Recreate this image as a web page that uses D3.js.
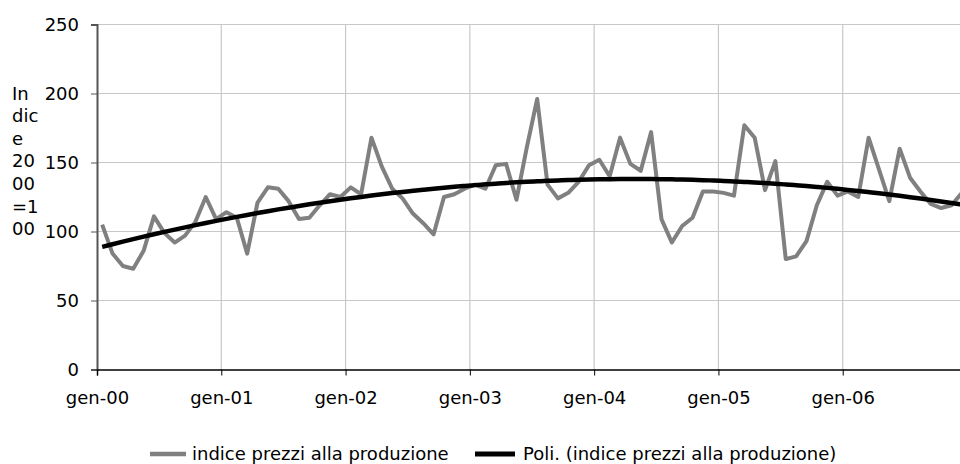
<!DOCTYPE html>
<html>
<head>
<meta charset="utf-8">
<script src="https://cdn.jsdelivr.net/npm/d3@7"></script>
<style>
  body { margin: 0; background: #fff; }
  text { font-family: "DejaVu Sans", Verdana, sans-serif; fill: #000; }
</style>
</head>
<body>
<svg id="chart" width="960" height="464"></svg>
<script>
// monthly producer price index, gen-00 .. dic-06
var prezzi = [
  105, 84, 75, 73, 86, 111, 99, 92, 97, 107, 125, 109,
  114, 110, 84, 121, 132, 131, 122, 109, 110, 119, 127, 125,
  132, 127, 168, 147, 131, 124, 113, 106, 98, 125, 127, 131,
  134, 131, 148, 149, 123, 161, 196, 134, 124, 128, 136, 148,
  152, 140, 168, 149, 144, 172, 109, 92, 104, 110, 129, 129,
  128, 126, 177, 168, 130, 151, 80, 82, 93, 119, 136, 126,
  129, 125, 168, 145, 122, 160, 139, 129, 120, 117, 119, 128
];
var yearLabels = ["gen-00", "gen-01", "gen-02", "gen-03", "gen-04", "gen-05", "gen-06"];
var yTicks = [0, 50, 100, 150, 200, 250];
var yTitle = ["In", "dic", "e", "20", "00", "=1", "00"];
var legendNames = ["indice prezzi alla produzione", "Poli. (indice prezzi alla produzione)"];

// polynomial (order 2) trend line, least squares on x = 1..n like Excel
function polyFit(vals) {
  var n = vals.length, s = [0, 0, 0, 0, 0], t = [0, 0, 0];
  vals.forEach(function(v, i) {
    var x = i + 1;
    for (var k = 0; k < 5; k++) s[k] += Math.pow(x, k);
    for (var k = 0; k < 3; k++) t[k] += v * Math.pow(x, k);
  });
  var A = [[s[0], s[1], s[2], t[0]], [s[1], s[2], s[3], t[1]], [s[2], s[3], s[4], t[2]]];
  for (var c = 0; c < 3; c++) {
    for (var r = c + 1; r < 3; r++) {
      var f = A[r][c] / A[c][c];
      for (var k = c; k < 4; k++) A[r][k] -= f * A[c][k];
    }
  }
  var b = [0, 0, 0];
  for (var r = 2; r >= 0; r--) {
    var sum = A[r][3];
    for (var k = r + 1; k < 3; k++) sum -= A[r][k] * b[k];
    b[r] = sum / A[r][r];
  }
  return vals.map(function(v, i) { var x = i + 1; return b[0] + b[1] * x + b[2] * x * x; });
}
var trend = polyFit(prezzi);

var svg = d3.select("#chart");
var x = d3.scaleLinear().domain([0, 84]).range([97, 967]);
var y = d3.scaleLinear().domain([0, 250]).range([369.5, 24.5]);

// gridlines
svg.append("g").selectAll("line.h").data(yTicks.slice(1)).enter().append("line")
  .attr("x1", 97).attr("x2", 967)
  .attr("y1", function(d) { return y(d); }).attr("y2", function(d) { return y(d); })
  .attr("stroke", "#c8c8c8").attr("stroke-width", 1.2);
svg.append("g").selectAll("line.v").data(d3.range(12, 84, 12)).enter().append("line")
  .attr("x1", function(d) { return x(d); }).attr("x2", function(d) { return x(d); })
  .attr("y1", y(250)).attr("y2", y(0))
  .attr("stroke", "#c8c8c8").attr("stroke-width", 1.2);

// y axis
var yAxis = d3.axisLeft(y).tickValues(yTicks).tickSize(6).tickPadding(12);
var gy = svg.append("g").attr("transform", "translate(97,0)").call(yAxis);
gy.select(".domain").attr("stroke", "#555").attr("stroke-width", 2);
gy.selectAll(".tick line").attr("stroke", "#555");
gy.selectAll("text").style("font-size", "18px").attr("fill", "#000");

// x axis
var xAxis = d3.axisBottom(x).tickValues(d3.range(0, 84, 12)).tickSize(6)
  .tickFormat(function(d) { return yearLabels[d / 12]; }).tickPadding(16);
var gx = svg.append("g").attr("transform", "translate(0," + y(0) + ")").call(xAxis);
gx.select(".domain").attr("stroke", "#000").attr("stroke-width", 1.5);
gx.selectAll(".tick line").attr("stroke", "#000");
gx.selectAll("text").style("font-size", "18px").attr("fill", "#000");

// series
var line = d3.line()
  .x(function(d, i) { return x(i + 0.5); })
  .y(function(d) { return y(d); });
svg.append("path").datum(prezzi).attr("d", line)
  .attr("fill", "none").attr("stroke", "#808080").attr("stroke-width", 4)
  .attr("stroke-linejoin", "round");
svg.append("path").datum(trend).attr("d", line.curve(d3.curveMonotoneX))
  .attr("fill", "none").attr("stroke", "#000").attr("stroke-width", 4.5);

// y title, wrapped like the original
svg.append("g").selectAll("text").data(yTitle).enter().append("text")
  .attr("x", 12).attr("y", function(d, i) { return 93.3 + i * 22.6; })
  .attr("dy", "0.35em").style("font-size", "18px")
  .text(function(d) { return d; });

// legend
var legend = svg.append("g");
var legX = [150, 475];
legendNames.forEach(function(name, i) {
  legend.append("line").attr("x1", legX[i]).attr("x2", legX[i] + (i ? 40 : 36))
    .attr("y1", 454).attr("y2", 454)
    .attr("stroke", i ? "#000" : "#808080").attr("stroke-width", i ? 5 : 4.5);
  legend.append("text").attr("x", legX[i] + (i ? 48 : 42)).attr("y", 454).attr("dy", "0.35em")
    .style("font-size", "18px").text(name);
});
</script>
</body>
</html>
